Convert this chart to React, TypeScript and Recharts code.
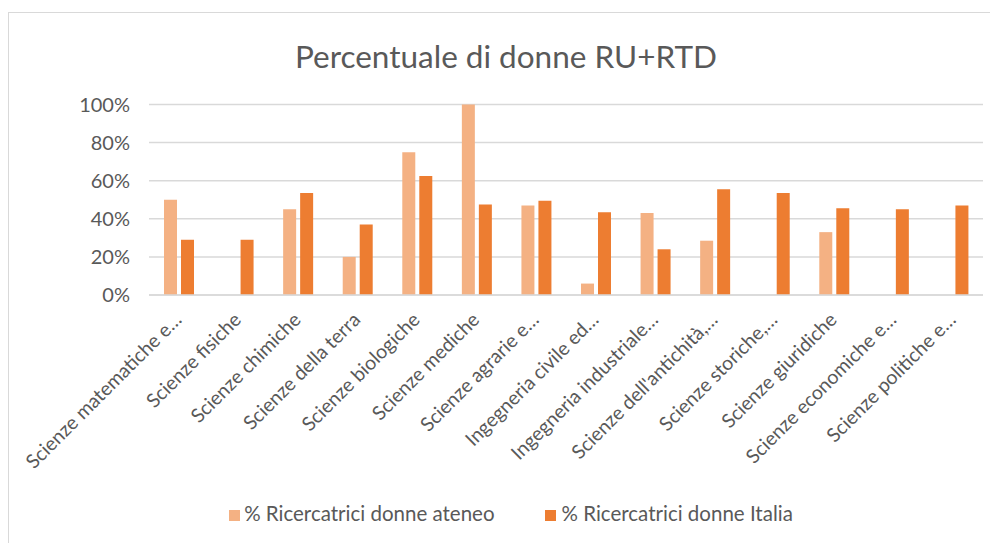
import React from 'react';
import { BarChart, Bar, XAxis, YAxis, CartesianGrid, Legend } from 'recharts';

const categories = [
  'Scienze matematiche e…',
  'Scienze fisiche',
  'Scienze chimiche',
  'Scienze della terra',
  'Scienze biologiche',
  'Scienze mediche',
  'Scienze agrarie e…',
  'Ingegneria civile ed…',
  'Ingegneria industriale…',
  "Scienze dell'antichità,…",
  'Scienze storiche,…',
  'Scienze giuridiche',
  'Scienze economiche e…',
  'Scienze politiche e…',
];

const ateneo: (number | null)[] = [50, null, 45, 20, 75, 100, 47, 6, 43, 28.5, null, 33, null, null];
const italia: number[] = [29, 29, 53.5, 37, 62.5, 47.5, 49.5, 43.5, 24, 55.5, 53.5, 45.5, 45, 47];

const yTicks = [0, 20, 40, 60, 80, 100];

const seriesNames = ['% Ricercatrici donne ateneo', '% Ricercatrici donne Italia'];

const data = categories.map((c, i) => ({ name: c, ateneo: ateneo[i], italia: italia[i] }));

const FONT = 'Lato, "Noto Sans", sans-serif';
const TEXT = '#595959';

const XTick = (props: any) => {
  const { x, y, payload } = props;
  return (
    <g transform={`translate(${x + 4},${y})`}>
      <text transform="rotate(-45)" textAnchor="end" fill={TEXT} fontSize={19.5} fontFamily={FONT}>
        {payload.value}
      </text>
    </g>
  );
};

export default function App() {
  return (
    <div
      style={{
        position: 'relative',
        marginTop: 4,
        width: 989,
        height: 530,
        borderTop: '1px solid #d9d9d9',
        borderLeft: '1px solid #d9d9d9',
        background: '#fff',
      }}
    >
      <div
        style={{
          position: 'absolute',
          top: 24,
          left: 0,
          width: 994,
          textAlign: 'center',
          fontFamily: FONT,
          fontSize: 31.5,
          lineHeight: 'normal',
          color: TEXT,
          zIndex: 2,
        }}
      >
        Percentuale di donne RU+RTD
      </div>
      <BarChart
        width={989}
        height={530}
        data={data}
        margin={{ top: 91.5, right: 15, bottom: 17, left: 0 }}
        barSize={13}
        barGap={4}
      >
        <CartesianGrid vertical={false} stroke="#d9d9d9" strokeWidth={1.5} />
        <XAxis
          dataKey="name"
          interval={0}
          tick={<XTick />}
          tickLine={false}
          axisLine={{ stroke: '#d9d9d9', strokeWidth: 1.5 }}
          height={205}
          tickMargin={20}
        />
        <YAxis
          domain={[0, 100]}
          ticks={yTicks}
          tickFormatter={(v: number) => `${v}%`}
          axisLine={false}
          tickLine={false}
          width={140}
          tickMargin={13}
          tick={{ fill: TEXT, fontSize: 20, fontFamily: FONT }}
        />
        <Legend
          verticalAlign="bottom"
          align="center"
          iconType="square"
          iconSize={11}
          itemSorter={null as any}
          wrapperStyle={{
            fontFamily: FONT,
            fontSize: 20.5,
            height: 26,
            lineHeight: '26px',
            boxSizing: 'border-box',
            paddingLeft: 40,
          }}
          formatter={(value: string, _entry: any, index: number) => (
            <span style={{ color: TEXT, marginRight: index === 0 ? 40 : 0, marginLeft: index === 1 ? 2 : 0 }}>{value}</span>
          )}
        />
        <Bar dataKey="ateneo" name={seriesNames[0]} fill="#F4B183" isAnimationActive={false} />
        <Bar dataKey="italia" name={seriesNames[1]} fill="#ED7D31" isAnimationActive={false} />
      </BarChart>
    </div>
  );
}
